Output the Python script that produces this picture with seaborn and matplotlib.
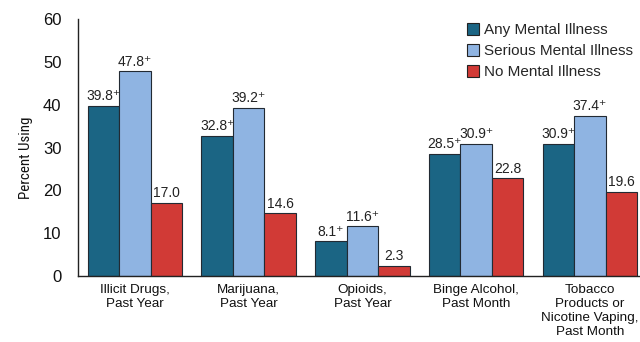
import matplotlib
matplotlib.use("Agg")
import matplotlib.pyplot as plt
import seaborn as sns
import pandas as pd
from matplotlib.patches import Patch

categories = [
    "Illicit Drugs,\nPast Year",
    "Marijuana,\nPast Year",
    "Opioids,\nPast Year",
    "Binge Alcohol,\nPast Month",
    "Tobacco\nProducts or\nNicotine Vaping,\nPast Month",
]
series_names = ["Any Mental Illness", "Serious Mental Illness", "No Mental Illness"]
any_mi = [39.8, 32.8, 8.1, 28.5, 30.9]
serious_mi = [47.8, 39.2, 11.6, 30.9, 37.4]
no_mi = [17.0, 14.6, 2.3, 22.8, 19.6]
# "+" marks a significant difference from the No Mental Illness group
flagged = [True, True, False]
colors = ["#1b6584", "#8fb4e2", "#d13a36"]

sns.set_theme(style="white")
plt.rcParams["font.family"] = ["Liberation Sans", "DejaVu Sans"]

rows = []
for name, vals in zip(series_names, [any_mi, serious_mi, no_mi]):
    for cat, v in zip(categories, vals):
        rows.append({"Measure": cat, "Group": name, "Percent": v})
df = pd.DataFrame(rows)

fig = plt.figure(figsize=(6.4, 3.42), dpi=100)
ax = fig.add_axes([0.122, 0.193, 0.878, 0.751])

sns.barplot(data=df, x="Measure", y="Percent", hue="Group",
            order=categories, hue_order=series_names,
            palette=colors, width=0.83, gap=0,
            edgecolor="#222a33", linewidth=0.8, saturation=1,
            legend=False, ax=ax)

for container, name, flag in zip(ax.containers, series_names, flagged):
    labels = [f"{v:.1f}\u207a" if flag else f"{v:.1f}" for v in container.datavalues]
    ax.bar_label(container, labels=labels, padding=2, fontsize=10, color="#222222")

ax.set_ylim(0, 60)
ax.set_xlim(-0.5, 4.44)
ax.set_yticks(range(0, 61, 10))
ax.tick_params(axis="y", labelsize=12, length=0, pad=12, colors="#111111")
ax.tick_params(axis="x", labelsize=9.7, length=0, pad=6, colors="#111111")
ax.set_xlabel("")
ax.set_ylabel("Percent Using", fontsize=10.8, color="#111111",
              family=["Roboto Condensed", "Liberation Sans Narrow",
                      "Liberation Sans", "DejaVu Sans"])
ax.yaxis.set_label_coords(-0.08, 0.46)
for s in ["top", "right"]:
    ax.spines[s].set_visible(False)
for s in ["left", "bottom"]:
    ax.spines[s].set_color("#222222")
    ax.spines[s].set_linewidth(1.0)

handles = [Patch(facecolor=c, edgecolor="#222222", linewidth=0.8) for c in colors]
ax.legend(handles, series_names, loc="upper left", bbox_to_anchor=(0.692, 0.985),
          frameon=False, fontsize=11, handlelength=0.8, handleheight=0.8,
          handletextpad=0.3, labelspacing=0.45, borderaxespad=0, borderpad=0)

fig.savefig("out.png", dpi=100)
